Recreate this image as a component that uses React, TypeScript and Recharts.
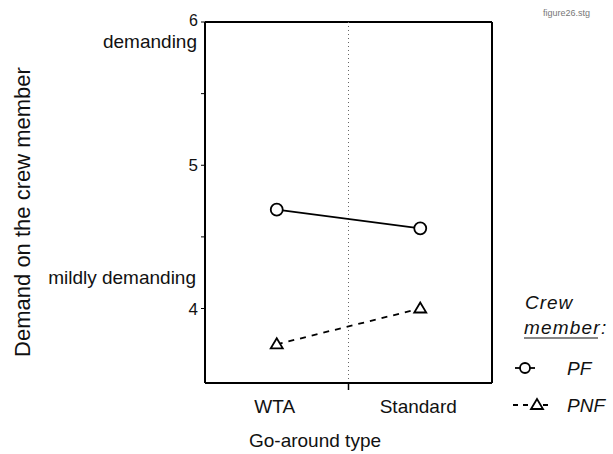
import React from 'react';
import { LineChart, Line, XAxis, YAxis, ReferenceLine, Label } from 'recharts';

const categories = ['WTA', 'Standard'];
const pfValues = [4.69, 4.56];
const pnfValues = [3.75, 4.0];
const yTicks = [4, 4.5, 5, 5.5, 6];
const yTickLabels: Record<number, string> = { 4: '4', 5: '5', 6: '6' };
const xTicks = [1, 1.5, 2];

const FONT = '"Liberation Sans", Arial, sans-serif';

const data = categories.map((name, i) => ({ x: i + 1, name, pf: pfValues[i], pnf: pnfValues[i] }));

const YTick = (props: any) => {
  const { y, payload } = props;
  const v = payload.value;
  const label = yTickLabels[v];
  if (!label) return null;
  return (
    <g fontFamily={FONT} fill="#111">
      <text x={198} y={v === 6 ? y + 4 : y + 6} textAnchor="end" fontSize={v === 6 ? 16 : 17}>{label}</text>
      {v === 6 && <text x={197} y={y + 26} textAnchor="end" fontSize={19}>demanding</text>}
      {v === 4 && <text x={196} y={y - 25} textAnchor="end" fontSize={19}>mildly demanding</text>}
    </g>
  );
};

const XTick = (props: any) => {
  const { x, y, payload } = props;
  const v = payload.value;
  if (v === 1.5) {
    return <line x1={x} x2={x} y1={y - 8} y2={y - 1} stroke="#000" strokeWidth={1.5} />;
  }
  const name = categories[v - 1];
  return (
    <text x={x - 2} y={y + 22} textAnchor="middle" fontSize={19} fontFamily={FONT} fill="#111">
      {name}
    </text>
  );
};

const TriangleDot = (props: any) => {
  const { cx, cy } = props;
  if (cx == null || cy == null) return null;
  return (
    <polygon
      points={`${cx},${cy - 6} ${cx - 6},${cy + 4} ${cx + 6},${cy + 4}`}
      fill="#fff"
      stroke="#000"
      strokeWidth={1.8}
    />
  );
};

const CrewLegend = () => (
  <svg width={100} height={135} style={{ position: 'absolute', left: 510, top: 282 }}>
    <g fontFamily={FONT} fontStyle="italic" fill="#111">
      <text x={15} y={27} fontSize={19} letterSpacing={1}>Crew</text>
      <text x={14} y={52} fontSize={19} letterSpacing={1.2}>member:</text>
      <line x1={14} x2={88} y1={56} y2={56} stroke="#111" strokeWidth={1.2} />
      <line x1={5} x2={25} y1={86} y2={86} stroke="#000" strokeWidth={1.8} />
      <circle cx={15} cy={86} r={5} fill="#fff" stroke="#000" strokeWidth={1.8} />
      <text x={57} y={93} fontSize={19}>PF</text>
      <line x1={3} x2={42} y1={123} y2={123} stroke="#000" strokeWidth={1.8} strokeDasharray="5 5" />
      <polygon points="27,117 21,127 33,127" fill="#fff" stroke="#000" strokeWidth={1.8} />
      <text x={57} y={130} fontSize={19}>PNF</text>
    </g>
  </svg>
);

export default function App() {
  return (
    <div style={{ position: 'absolute', left: 0, top: 0, width: 613, height: 454, background: '#fff' }}>
      <div
        style={{
          position: 'absolute',
          left: 543,
          top: 8,
          fontSize: 9,
          color: '#777',
          fontFamily: FONT,
        }}
      >
        figure26.stg
      </div>
      <LineChart
        width={613}
        height={454}
        data={data}
        margin={{ top: 22, right: 121, bottom: 0, left: 5 }}
      >
        <XAxis
          dataKey="x"
          type="number"
          domain={[0.5, 2.5]}
          ticks={xTicks}
          tickLine={false}
          tick={<XTick />}
          axisLine={{ stroke: '#000', strokeWidth: 2 }}
          height={71}
        >
          <Label
            content={() => (
              <text x={315} y={447} textAnchor="middle" fontSize={19} fontFamily={FONT} fill="#111">
                Go-around type
              </text>
            )}
          />
        </XAxis>
        <YAxis
          type="number"
          domain={[3.48, 6]}
          ticks={yTicks}
          width={200}
          tickSize={4}
          tickLine={{ stroke: '#000', strokeWidth: 1 }}
          tick={<YTick />}
          axisLine={{ stroke: '#000', strokeWidth: 2 }}
        >
          <Label
            content={() => (
              <text
                transform="translate(30,212) rotate(-90)"
                textAnchor="middle"
                fontSize={22}
                fontFamily={FONT}
                fill="#111"
              >
                Demand on the crew member
              </text>
            )}
          />
        </YAxis>
        <ReferenceLine y={6} stroke="#000" strokeWidth={2} />
        <ReferenceLine x={2.5} stroke="#000" strokeWidth={2} />
        <ReferenceLine x={1.5} stroke="#666" strokeWidth={1} strokeDasharray="1 3" />
        <Line
          dataKey="pf"
          stroke="#000"
          strokeWidth={1.8}
          dot={{ r: 6, fill: '#fff', stroke: '#000', strokeWidth: 1.8 }}
          isAnimationActive={false}
        />
        <Line
          dataKey="pnf"
          stroke="#000"
          strokeWidth={1.8}
          strokeDasharray="6 6"
          dot={<TriangleDot />}
          isAnimationActive={false}
        />
      </LineChart>
      <CrewLegend />
    </div>
  );
}
